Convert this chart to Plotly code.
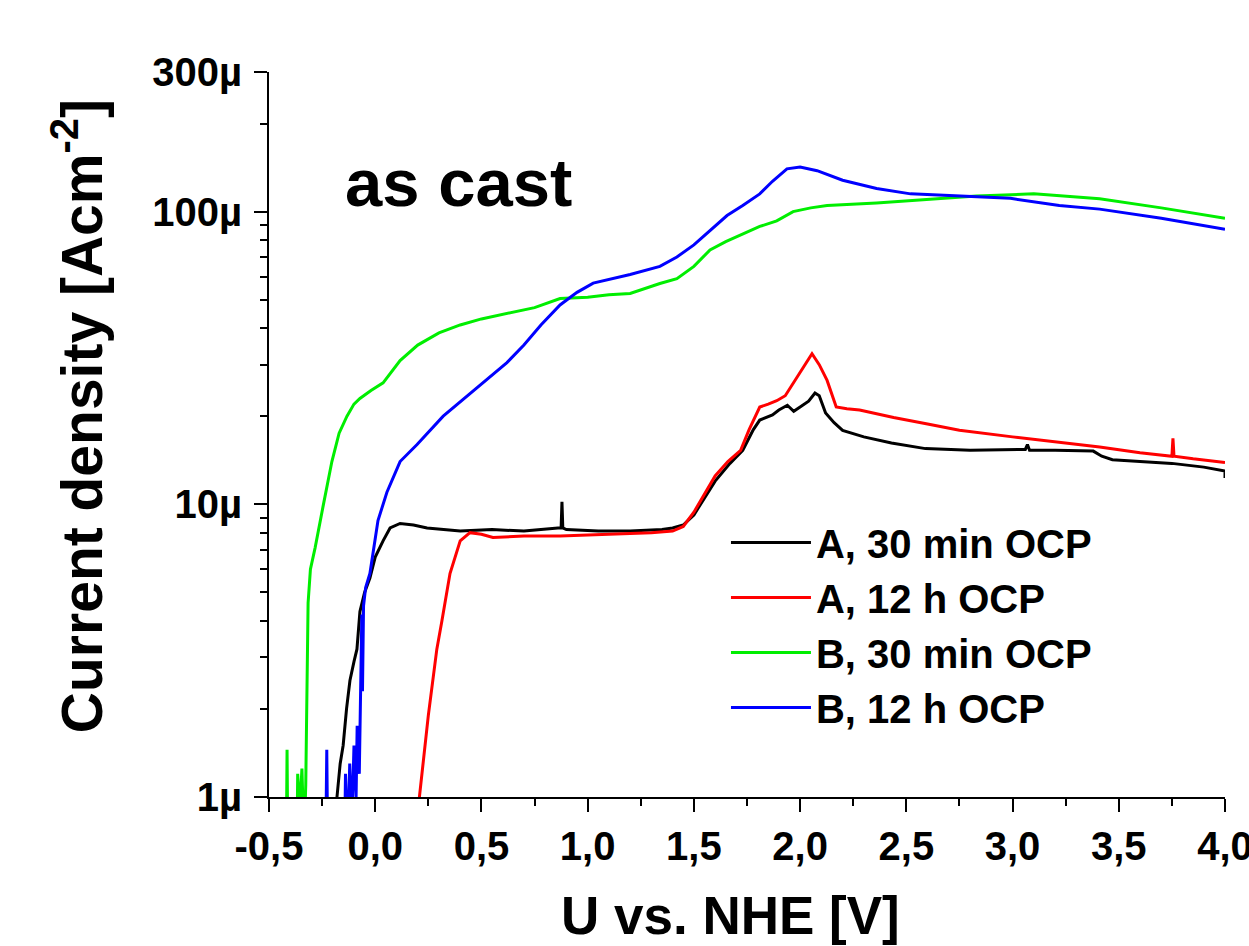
import plotly.graph_objects as go

# ---------------- data (current density in µA cm^-2) ----------------
A30_U = [-0.20, -0.18, -0.165, -0.151, -0.135, -0.119, -0.10, -0.086, -0.072, -0.05, -0.025, 0.0,
         0.037, 0.07, 0.117, 0.18, 0.244, 0.32, 0.40, 0.55, 0.70, 0.86, 0.875, 0.879, 0.883, 0.90,
         1.05, 1.20, 1.35, 1.40, 1.45, 1.50, 1.55, 1.60, 1.67, 1.73, 1.78, 1.81, 1.87, 1.90, 1.94,
         1.97, 2.00, 2.04, 2.07, 2.09, 2.12, 2.16, 2.20, 2.30, 2.43, 2.59, 2.80, 3.06, 3.07, 3.08,
         3.20, 3.38, 3.42, 3.47, 3.60, 3.75, 3.90, 4.00, 4.00]
A30_I = [0.5, 1.0, 1.3, 1.5, 2.0, 2.5, 2.9, 3.2, 4.3, 5.0, 5.6, 6.6,
         7.5, 8.3, 8.6, 8.5, 8.3, 8.2, 8.1, 8.2, 8.1, 8.3, 8.3, 10.2, 8.3, 8.2,
         8.1, 8.1, 8.2, 8.3, 8.5, 9.2, 10.5, 12.0, 13.8, 15.3, 18.0, 19.4, 20.2, 21.0, 21.8,
         20.8, 21.5, 22.5, 24.0, 23.5, 20.5, 19.0, 17.9, 17.0, 16.2, 15.5, 15.3, 15.4, 16.0, 15.3,
         15.3, 15.2, 14.6, 14.2, 14.0, 13.8, 13.4, 13.0, 12.3]

A12_U = [0.20, 0.208, 0.25, 0.27, 0.29, 0.314, 0.352, 0.40, 0.446, 0.50, 0.554, 0.70, 0.87,
         1.10, 1.30, 1.40, 1.45, 1.50, 1.55, 1.60, 1.66, 1.72, 1.76, 1.81, 1.85, 1.89, 1.93,
         1.967, 2.01, 2.056, 2.09, 2.127, 2.17, 2.22, 2.28, 2.44, 2.60, 2.75, 3.00, 3.22, 3.41,
         3.60, 3.75, 3.755, 3.76, 3.85, 4.00]
A12_I = [0.5, 1.0, 1.9, 2.5, 3.2, 4.0, 5.8, 7.5, 8.0, 7.9, 7.7, 7.8, 7.8,
         7.9, 8.0, 8.1, 8.4, 9.4, 10.8, 12.5, 14.0, 15.3, 18.0, 21.5, 22.0, 22.6, 23.5,
         25.9, 29.0, 32.7, 30.0, 26.5, 21.5, 21.2, 21.0, 19.8, 18.8, 17.9, 17.0, 16.3, 15.7,
         15.0, 14.6, 16.8, 14.6, 14.3, 13.9]

B30_U = [-0.42, -0.415, -0.41, -0.37, -0.365, -0.355, -0.345, -0.335, -0.327, -0.321, -0.316,
         -0.305, -0.283, -0.246, -0.204, -0.17, -0.133, -0.10, -0.072, -0.02, 0.037, 0.117,
         0.20, 0.30, 0.40, 0.50, 0.62, 0.75, 0.87, 1.00, 1.10, 1.20, 1.34, 1.42, 1.50, 1.576,
         1.65, 1.731, 1.81, 1.89, 1.967, 2.05, 2.127, 2.36, 2.60, 2.83, 3.10, 3.41, 3.70, 4.00]
B30_I = [0.5, 1.45, 0.5, 0.5, 1.2, 0.9, 1.25, 0.7, 1.1, 3.0, 4.6,
         6.0, 7.1, 9.8, 14.0, 17.5, 20.0, 22.0, 23.0, 24.5, 26.0, 31.0,
         35.0, 38.5, 41.0, 43.0, 45.0, 47.0, 50.5, 51.0, 52.0, 52.5, 56.8, 59.0, 65.0, 74.0,
         79.0, 84.0, 89.0, 93.0, 100.0, 103.0, 105.0, 107.0, 110.0, 113.0, 115.0, 110.7, 103.0, 95.0]

B12_U = [-0.235, -0.228, -0.222, -0.145, -0.14, -0.13, -0.12, -0.11, -0.10, -0.09, -0.085,
         -0.075, -0.068, -0.063, -0.06, -0.055, -0.045, -0.025, 0.013, 0.055, 0.117, 0.197,
         0.32, 0.48, 0.55, 0.62, 0.70, 0.78, 0.87, 0.95, 1.026, 1.20, 1.34, 1.42, 1.50, 1.576,
         1.656, 1.73, 1.81, 1.87, 1.938, 2.00, 2.08, 2.20, 2.36, 2.52, 2.75, 2.99, 3.22, 3.41,
         3.70, 4.00]
B12_I = [0.5, 1.45, 0.5, 0.6, 1.2, 0.7, 1.3, 0.8, 1.5, 1.0, 1.75,
         1.2, 2.5, 4.2, 2.3, 4.5, 5.2, 5.8, 8.8, 11.0, 14.0, 16.0,
         20.0, 25.0, 27.5, 30.5, 35.0, 41.0, 48.0, 53.0, 57.0, 61.0, 65.0, 70.0, 77.0, 86.0,
         97.0, 105.0, 115.0, 127.0, 140.0, 142.0, 138.0, 128.0, 120.0, 115.0, 113.0, 111.0, 105.0, 102.0,
         95.0, 87.0]

SERIES_NAMES = ["A, 30 min OCP", "A, 12 h OCP", "B, 30 min OCP", "B, 12 h OCP"]
SERIES_COLORS = ["#000000", "#ff0000", "#00ee00", "#0000ff"]

X_TICKS = [-0.5, 0.0, 0.5, 1.0, 1.5, 2.0, 2.5, 3.0, 3.5, 4.0]
X_TICK_TEXT = ["-0,5", "0,0", "0,5", "1,0", "1,5", "2,0", "2,5", "3,0", "3,5", "4,0"]
Y_TICKS = [1, 10, 100, 300]
Y_TICK_TEXT = ["1µ", "10µ", "100µ", "300µ"]
Y_MINOR = [2, 3, 4, 5, 6, 7, 8, 9, 20, 30, 40, 50, 60, 70, 80, 90, 200]

X_TITLE = "<b>U vs. NHE [V]</b>"
Y_TITLE = "<b>Current density [Acm<sup>-2</sup>]</b>"
PANEL_LABEL = "<b>as cast</b>"

FONT = "Liberation Sans, Arial, sans-serif"

fig = go.Figure()
for name, color, u, i in zip(SERIES_NAMES, SERIES_COLORS,
                             [A30_U, A12_U, B30_U, B12_U],
                             [A30_I, A12_I, B30_I, B12_I]):
    fig.add_trace(go.Scatter(x=u, y=i, mode="lines", name=name,
                             line=dict(color=color, width=3)))

fig.update_layout(
    template="none",
    width=1249, height=946,
    margin=dict(l=269, r=24, t=72, b=149, autoexpand=False),
    paper_bgcolor="white", plot_bgcolor="white",
    font=dict(family=FONT, color="black"),
    showlegend=True,
    legend=dict(x=0.478, y=0.396, xanchor="left", yanchor="top",
                font=dict(family=FONT, size=40, color="black", weight="bold"),
                bgcolor="rgba(0,0,0,0)", borderwidth=0, tracegroupgap=0, itemwidth=80),
    annotations=[
        dict(text=PANEL_LABEL, x=0.077, y=0.848, xref="paper", yref="paper",
             xanchor="left", yanchor="middle", showarrow=False,
             font=dict(family=FONT, size=67, color="black")),
        dict(text=X_TITLE, x=0.483, y=-0.164, xref="paper", yref="paper",
             xanchor="center", yanchor="middle", showarrow=False,
             font=dict(family=FONT, size=53, color="black")),
        dict(text=Y_TITLE, x=-0.199, y=0.525, xref="paper", yref="paper",
             xanchor="center", yanchor="middle", showarrow=False, textangle=-90,
             font=dict(family=FONT, size=57, color="black")),
    ],
)

fig.update_xaxes(
    range=[-0.5, 4.0], tickvals=X_TICKS, ticktext=X_TICK_TEXT,
    showline=True, linecolor="black", linewidth=2, mirror=False,
    ticks="outside", ticklen=13, tickwidth=2, tickcolor="black",
    minor=dict(dtick=0.25, tick0=-0.5, ticks="outside", ticklen=7, tickwidth=2, tickcolor="black"),
    showgrid=False, zeroline=False, automargin=False, ticklabeloverflow="allow",
    tickfont=dict(family=FONT, size=40, color="black", weight="bold"),
)
fig.update_yaxes(
    type="log", range=[0, 2.4771], tickvals=Y_TICKS, ticktext=Y_TICK_TEXT,
    showline=True, linecolor="black", linewidth=2, mirror=False,
    ticks="outside", ticklen=13, tickwidth=2, tickcolor="black",
    minor=dict(tickvals=Y_MINOR, ticks="outside", ticklen=7, tickwidth=2, tickcolor="black"),
    showgrid=False, zeroline=False, automargin=False, ticklabeloverflow="allow",
    ticklabelstandoff=4,
    tickfont=dict(family=FONT, size=40, color="black", weight="bold"),
)

fig.write_html("out.html", config={"displayModeBar": False},
               post_script="document.body.style.margin='0px';document.body.style.overflow='hidden';")
